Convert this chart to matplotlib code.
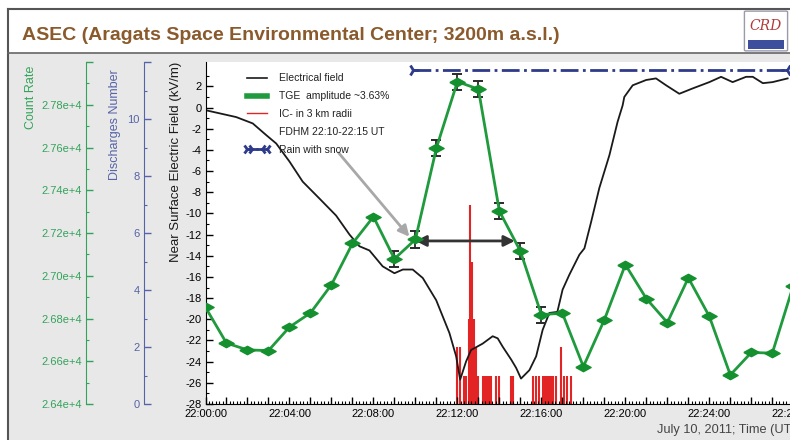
import numpy as np
import matplotlib
matplotlib.use('Agg')
import matplotlib.pyplot as plt
from matplotlib.lines import Line2D
from matplotlib.patches import Rectangle, FancyBboxPatch
from matplotlib.ticker import MultipleLocator, FixedLocator, FuncFormatter
from matplotlib.legend_handler import HandlerTuple

plt.rcParams['font.family'] = ['Liberation Sans', 'DejaVu Sans']
plt.rcParams['axes.unicode_minus'] = False

# electric field, minutes after 22:00 UT -> kV/m
field_t = [0.0, 1.46, 2.25, 2.89, 3.37, 4.0, 4.63, 5.43, 6.22, 6.86, 7.33, 7.81,
           8.44, 9.0, 9.4, 9.87, 10.35, 10.99, 11.62, 11.94, 12.13, 12.41, 12.65,
           13.2, 13.68, 13.92, 14.16, 14.56, 14.8, 15.03, 15.43, 15.75, 16.06,
           16.38, 16.76, 17.01, 17.33, 17.81, 18.05, 18.37, 18.76, 19.24, 19.63,
           19.87, 19.95, 20.35, 20.99, 21.46, 21.94, 22.57, 23.2, 24.0, 24.56,
           25.11, 25.75, 26.07, 26.55, 27.01, 27.73]
field_v = [-0.25, -0.9, -1.5, -2.6, -3.4, -5.1, -7.0, -8.6, -10.2, -12.0, -13.1, -13.5,
           -15.0, -15.65, -15.3, -15.3, -16.1, -18.2, -21.3, -23.5, -25.7, -24.0, -22.9,
           -22.3, -21.6, -21.8, -22.6, -23.8, -24.6, -25.6, -24.8, -23.5, -21.0,
           -19.4, -19.3, -17.2, -15.8, -13.9, -13.3, -10.8, -7.6, -4.5, -1.35,
           0.2, 1.0, 2.1, 2.6, 2.75, 2.1, 1.3, 1.8, 2.4, 2.9,
           2.4, 2.9, 2.9, 2.3, 2.4, 2.75]

# one-minute count rate of the detector
count_t = list(range(29))
count_rate = [26852, 26685, 26653, 26650, 26760, 26826, 26958, 27151, 27276, 27079,
              27170, 27598, 27908, 27873, 27302, 27115, 26818, 26825, 26575, 26794,
              27052, 26893, 26781, 26990, 26810, 26536, 26641, 26638, 26954]
err_t = [9, 10, 11, 12, 13, 14, 15, 16]
err_size = 38

# intracloud discharges within 3 km
ic_t = [11.98, 12.12, 12.29, 12.43, 12.55, 12.62, 12.71, 12.81, 12.90, 13.0,
        13.24, 13.33, 13.43, 13.52, 13.62, 13.86, 14.0, 14.57, 14.67,
        15.62, 15.76, 15.90, 16.10, 16.19, 16.29, 16.38, 16.48, 16.57, 16.71,
        16.95, 17.10, 17.24, 17.43]
ic_n = [2, 2, 1, 1, 3, 7, 5, 3, 2, 1,
        1, 1, 1, 1, 1, 1, 1, 1, 1,
        1, 1, 1, 1, 1, 1, 1, 1, 1, 1,
        2, 1, 1, 1]

rain_t = [9.87, 27.7]
rain_level = 3.5
fdhm = [10, 15]

GREEN = '#1f9a3c'
AX_GREEN = '#33a35a'
AX_BLUE = '#5563a8'
RED = '#e32424'

W, H = 790, 440
def fx(x):
    return x / W
def fy(y):
    return 1 - y / H

fig = plt.figure(figsize=(7.9, 4.4), dpi=100)
fig.patch.set_facecolor('white')

# page background, banner and frame lines
fig.add_artist(Rectangle((fx(8), 0), 1, fy(53), transform=fig.transFigure,
                         facecolor='#e8e8e8', edgecolor='none', zorder=0))
fig.add_artist(Line2D([fx(8), 1], [fy(9), fy(9)], color='#555555', lw=1.5))
fig.add_artist(Line2D([fx(8), fx(8)], [0, fy(9)], color='#555555', lw=1.5))
fig.add_artist(Line2D([fx(8), 1], [fy(53), fy(53)], color='#666666', lw=1.2))
fig.text(fx(22), fy(35), 'ASEC (Aragats Space Environmental Center; 3200m a.s.l.)',
         fontsize=14, fontweight='bold', color='#8a5a2c', va='center', ha='left')

# logo
fig.add_artist(FancyBboxPatch((fx(746), fy(50)), fx(40), 38 / H,
                              boxstyle='round,pad=0.002', transform=fig.transFigure,
                              facecolor='white', edgecolor='#9a9aaa', lw=1))
fig.add_artist(Rectangle((fx(748), fy(49)), fx(36), 9 / H, transform=fig.transFigure,
                         facecolor='#3c4e9c', edgecolor='none'))
fig.text(fx(766), fy(26), 'CRD', fontsize=10, color='#b03a3a', family='DejaVu Serif',
         ha='center', va='center', style='italic')

rect = [fx(205.5), 36 / H, 592 / W, 342 / H]
ax = fig.add_axes(rect)
ax_d = ax.twinx()
ax_c = ax.twinx()
ax_d.set_zorder(1)
ax.set_zorder(2)
ax_c.set_zorder(3)
ax_d.patch.set_visible(True)
ax_d.patch.set_facecolor('white')
ax.patch.set_visible(False)

for a in (ax, ax_d, ax_c):
    a.spines['top'].set_visible(False)
    a.spines['right'].set_visible(False)
for a in (ax_d, ax_c):
    a.spines['bottom'].set_visible(False)
    a.spines['left'].set_visible(True)
    a.yaxis.tick_left()
    a.yaxis.set_label_position('left')

# field axis
ax.plot(field_t, field_v, color='#1a1a1a', lw=1.3)
ax.set_xlim(0, 28.2)
ax.set_ylim(-28, 4.3)
ax.yaxis.set_major_locator(FixedLocator(range(-28, 3, 2)))
ax.yaxis.set_minor_locator(FixedLocator(range(-28, 4)))
ax.xaxis.set_major_locator(MultipleLocator(1))
ax.xaxis.set_minor_locator(MultipleLocator(1 / 6))
ax.xaxis.set_major_formatter(FuncFormatter(
    lambda m, p: '22:%02d:00' % int(round(m)) if int(round(m)) % 4 == 0 else ''))
ax.tick_params(which='major', direction='in', length=5, width=1, labelsize=8)
ax.tick_params(which='minor', direction='in', length=2.5, width=0.8)
ax.tick_params(axis='x', pad=3.5)
ax.tick_params(axis='y', pad=3)

# rain period and FDHM marker
ax.plot(rain_t, [rain_level, rain_level], color='#2e3a8a', lw=2, ls='-.', clip_on=False)
ax.plot(rain_t[0], rain_level, marker='4', ms=9, mew=2, color='#2e3a8a')
ax.plot(rain_t[1], rain_level, marker='3', ms=9, mew=2, color='#2e3a8a')
ax.annotate('', xy=(fdhm[1], -12.6), xytext=(fdhm[0], -12.6),
            arrowprops=dict(arrowstyle='<|-|>', color='#333333', lw=2,
                            mutation_scale=16, shrinkA=0, shrinkB=4))
ax.annotate('', xy=(9.71, -12.2), xytext=(6.35, -4.3),
            arrowprops=dict(arrowstyle='-|>', color='#a8a8a8', lw=2,
                            mutation_scale=16, shrinkA=0, shrinkB=0))

# discharges axis
ax_d.vlines(ic_t, 0, ic_n, color=RED, lw=1.5)
ax_d.set_ylim(0, 12)
ax_d.spines['left'].set_position(('outward', 61.5 * 72 / 100))
ax_d.spines['left'].set_color(AX_BLUE)
ax_d.yaxis.set_major_locator(MultipleLocator(2))
ax_d.yaxis.set_minor_locator(MultipleLocator(1))
ax_d.yaxis.set_major_formatter(FuncFormatter(lambda v, p: '' if v > 11 else '%d' % v))
ax_d.tick_params(which='major', direction='in', length=5, width=1, labelsize=8,
                 colors=AX_BLUE, pad=3)
ax_d.tick_params(which='minor', direction='in', length=2.5, width=0.8, colors=AX_BLUE)

# count rate axis
diamond = [(-1, 0), (0, 0.55), (1, 0), (0, -0.55), (-1, 0)]
err_rate = [count_rate[i] for i in err_t]
ax_c.errorbar(err_t, err_rate, yerr=err_size, fmt='none', ecolor='#2a2a2a',
              elinewidth=1.3, capsize=3.5, capthick=1.4, zorder=2)
ax_c.plot(count_t, count_rate, color=GREEN, lw=2, marker=diamond, ms=11,
          mfc='#14902f', mec='#14902f', zorder=3)
ax_c.set_ylim(26400, 28000)
ax_c.spines['left'].set_position(('outward', 119.5 * 72 / 100))
ax_c.spines['left'].set_color(AX_GREEN)
ax_c.yaxis.set_major_locator(MultipleLocator(200))
ax_c.yaxis.set_minor_locator(MultipleLocator(100))
ax_c.yaxis.set_major_formatter(FuncFormatter(
    lambda v, p: '' if v > 27900 else '%.2fe+4' % (v / 1e4)))
ax_c.tick_params(which='major', direction='in', length=5, width=1, labelsize=8,
                 colors=AX_GREEN, pad=3)
ax_c.tick_params(which='minor', direction='in', length=2.5, width=0.8, colors=AX_GREEN)

# axis titles
fig.text(fx(176), fy(62), 'Near Surface Electric Field (kV/m)', rotation=90,
         fontsize=9.5, color='#1a1a1a', ha='center', va='top')
fig.text(fx(115), fy(69), 'Discharges Number', rotation=90,
         fontsize=9, color=AX_BLUE, ha='center', va='top')
fig.text(fx(31), fy(66), 'Count Rate', rotation=90,
         fontsize=9, color=AX_GREEN, ha='center', va='top')
fig.text(fx(657), fy(430), 'July 10, 2011; Time (UT)', fontsize=9.2,
         color='#444444', ha='left', va='center')

# legend
h_field = Line2D([], [], color='#1a1a1a', lw=1.2)
h_tge = Line2D([], [], color=GREEN, lw=4)
h_ic = Line2D([], [], color=RED, lw=1)
h_none = Line2D([], [], lw=0, alpha=0)
h_rain_l = Line2D([], [], color='#2e3a8a', lw=2, ls='-.', marker='4', ms=8, mew=2,
                  markevery=[0])
h_rain_r = Line2D([], [], color='#2e3a8a', lw=0, marker='3', ms=8, mew=2,
                  markevery=[1])
leg = ax_c.legend([h_field, h_tge, h_ic, h_none, (h_rain_l, h_rain_r)],
                  ['Electrical field', 'TGE  amplitude ~3.63%', 'IC- in 3 km radii',
                   'FDHM 22:10-22:15 UT', 'Rain with snow'],
                  handler_map={tuple: HandlerTuple(ndivide=None)},
                  loc='upper left', bbox_to_anchor=(fx(234), fy(64)),
                  bbox_transform=fig.transFigure, frameon=False, fontsize=7.5,
                  numpoints=2, handlelength=2.6, handletextpad=0.8, labelspacing=0.75)
for txt in leg.get_texts():
    txt.set_color('#222222')

fig.savefig('out.png', dpi=100, facecolor=fig.get_facecolor())
